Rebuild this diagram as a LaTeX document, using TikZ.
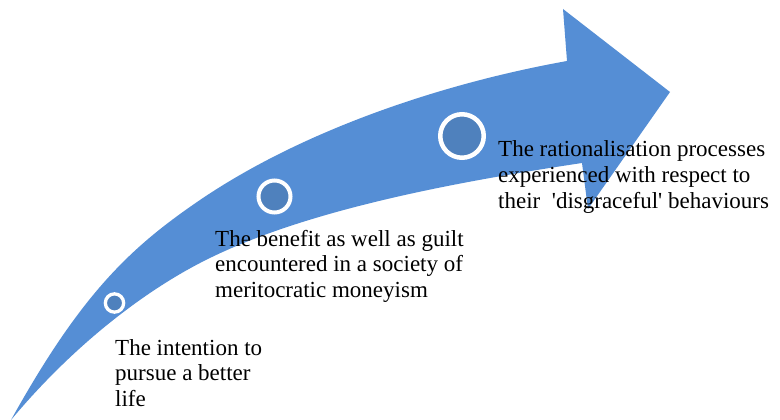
\documentclass[tikz,border=0pt]{standalone}
\usepackage{fontspec}
\setmainfont{Liberation Serif}
\definecolor{arrowblue}{RGB}{85,142,213}
\definecolor{dotblue}{RGB}{79,129,189}
\tikzset{
  dot/.style={circle, fill=dotblue, draw=white, inner sep=0pt},
  label/.style={anchor=base west, inner sep=0pt, text=black},
}
\newcommand{\lbltext}[1]{\parbox[t]{300pt}{\fontsize{23}{25.7}\selectfont\raggedright #1}}
\begin{document}
\begin{tikzpicture}[x=1pt,y=-1pt]
\useasboundingbox (0,0) rectangle (780,420);
\fill[white] (0,0) rectangle (780,420);
\begin{scope}
\clip (0,0) rectangle (780,420);
\fill[arrowblue]
  (11,420) .. controls (81,294) and (130,247.6) .. (200,200)
  .. controls (300,132) and (437,84.4) .. (567,61)
  -- (563,9) -- (670,92) -- (588,209) -- (582,163)
  .. controls (452,182.5) and (300,211) .. (200,263)
  .. controls (140,294.2) and (71,348) .. (11,420)
  -- cycle;
\end{scope}
\node[dot, line width=3.3pt, minimum size=18.3pt] (c1) at (114.5,303) {};
\node[dot, line width=4pt, minimum size=32pt] (c2) at (274.5,196.5) {};
\node[dot, line width=4.5pt, minimum size=43.5pt] (c3) at (462,136) {};
\node[label] (t1) at (115,355) {\lbltext{The intention to\\pursue a better\\life}};
\node[label] (t2) at (215,246) {\lbltext{The benefit as well as guilt\\encountered in a society of\\meritocratic moneyism}};
\node[label] (t3) at (498,157) {\lbltext{The rationalisation processes\\experienced with respect to\\their\ \ \textquotesingle disgraceful\textquotesingle\ behaviours}};
\end{tikzpicture}
\end{document}
